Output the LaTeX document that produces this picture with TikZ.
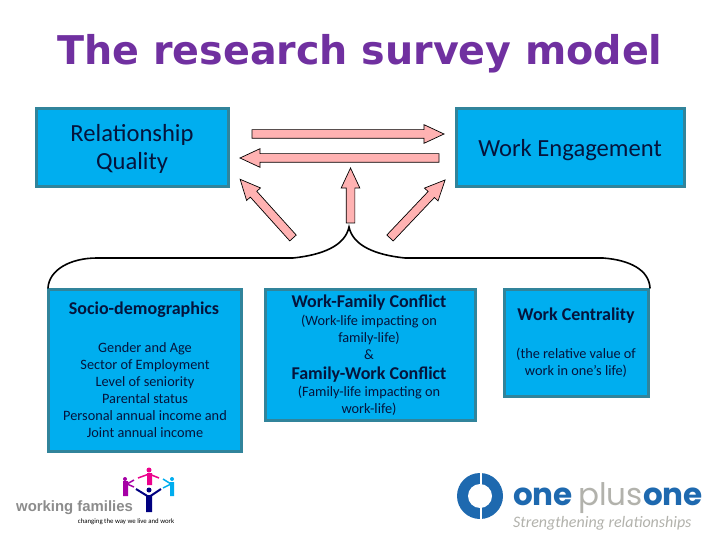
\documentclass[tikz,border=0pt]{standalone}
\usepackage{fontspec}
\setmainfont{Carlito}
\newfontfamily\titlefont{DejaVu Sans}
\newfontfamily\wffont{Liberation Sans}
\newfontfamily\opfont{Poppins}
\usetikzlibrary{positioning,shapes.arrows}
\definecolor{boxfill}{RGB}{0,174,239}
\definecolor{boxline}{RGB}{49,132,155}
\definecolor{arrowfill}{RGB}{255,178,178}
\definecolor{titlepurple}{RGB}{112,48,160}
\definecolor{logoblue}{RGB}{30,105,175}
\definecolor{logogrey}{RGB}{178,178,172}
\definecolor{boxtext}{RGB}{5,20,60}
\tikzset{
  infobox/.style={draw=boxline, line width=3pt, fill=boxfill, inner sep=0pt, outer sep=0pt, anchor=north west},
  headtext/.style={text=boxtext, font=\fontsize{18}{20}\selectfont\bfseries},
  notetext/.style={text=boxtext, align=center, font=\fontsize{14.3}{16.9}\selectfont},
  flowarrow/.style={single arrow, draw=black, fill=arrowfill, line width=0.7pt, inner sep=0pt, inner ysep=4pt,
    outer sep=0pt, single arrow head extend=5pt, single arrow tip angle=50, anchor=tail},
  bracecurve/.style={draw=black, line width=1.6pt, line cap=round},
}
\begin{document}
\begin{tikzpicture}[x=1pt, y=-1pt]
    \useasboundingbox (0,0) rectangle (720,540);
    \fill[white] (0,0) rectangle (720,540);

    % Title
    \node (title) at (360,54) {\titlefont\fontsize{39.6}{44}\selectfont\bfseries\color{titlepurple}The research survey model};

    % Boxes
    \node[infobox, minimum width=192pt, minimum height=78pt] (quality) at (36.5,108.5) {};
    \node[infobox, minimum width=228pt, minimum height=78pt] (engagement) at (456.5,108.5) {};
    \node[infobox, minimum width=193pt, minimum height=162pt] (socio) at (48,289) {};
    \node[infobox, minimum width=210pt, minimum height=131pt] (conflict) at (265,289) {};
    \node[infobox, minimum width=144pt, minimum height=107pt] (centrality) at (504.5,289) {};

    % Box texts
    \node[align=center, text=boxtext, font=\fontsize{24.6}{28}\selectfont] (qualitytext) at (132,149) {Relationship\\Quality};
    \node[text=boxtext, font=\fontsize{24.6}{28}\selectfont] (engagementtext) at (570,150) {Work Engagement};
    \node[headtext] (sociotext) at (144,310) {Socio-demographics};
    \node[notetext] (sociolist) at (145,390) {Gender and Age\\Sector of Employment\\Level of seniority\\Parental status\\Personal annual income and\\Joint annual income};
    \node[headtext] (wfc) at (369,303) {Work-Family Conflict};
    \node[notetext] (wfcnote) at (369,337) {(Work-life impacting on\\family-life)\\\&};
    \node[headtext] (fwc) at (369,375) {Family-Work Conflict};
    \node[notetext] (fwcnote) at (369,401) {(Family-life impacting on\\work-life)};
    \node[headtext] (centraltext) at (576,316) {Work Centrality};
    \node[notetext] (centralnote) at (576,363) {(the relative value of\\work in one’s life)};

    % Arrows
    \node[flowarrow, minimum height=192pt] (toengage) at (252,134) {};
    \node[flowarrow, rotate=180, minimum height=199pt] (toquality) at (439,158) {};
    \node[flowarrow, rotate=90, minimum height=55pt] (upmid) at (350.5,223) {};
    \node[flowarrow, rotate=132, minimum height=79pt] (upleft) at (293,238) {};
    \node[flowarrow, rotate=46.5, minimum height=80pt] (upright) at (390,238) {};

    % Brace
    \coordinate (braceleft) at (48,288);
    \coordinate (braceright) at (650,288);
    \coordinate (bracetip) at (349,227);
    \draw[bracecurve] (braceleft) .. controls (49,270) and (70,258) .. (97,258) -- (293,258)
        .. controls (322,255) and (345,246) .. (bracetip)
        .. controls (353,246) and (376,255) .. (405,258) -- (603,258)
        .. controls (630,260) and (649,270) .. (braceright);

    % Logo left
    \node[font=\wffont\fontsize{14.9}{16}\selectfont\bfseries, text=gray!90, inner sep=0pt, anchor=west] (wflogo) at (16,508) {working families};
    \node[font=\fontsize{6.8}{8}\selectfont, inner sep=0pt] (wftag) at (126,522) {changing the way we live and work};
    \fill[violet!70!magenta] (125,479) circle (2pt) (123,481) rectangle (128,496);
    \draw[violet!70!magenta, line width=1.5pt] (127,484) -- (134,480) (127,484) -- (134,487);
    \fill[magenta] (149,470) circle (2.5pt) (147,473) rectangle (152,485);
    \draw[magenta, line width=1.5pt] (138,478) -- (149,474) -- (159,478);
    \fill[cyan] (172,479) circle (2pt) (170,482) rectangle (174,496);
    \draw[cyan, line width=1.5pt] (171,484) -- (163,479) (171,484) -- (163,488);
    \fill[blue!50!black] (149,490) circle (2.5pt) (146,495) rectangle (152,512);
    \draw[blue!50!black, line width=2pt] (136,489) -- (149,497) -- (161,489);

    % Logo right
    \fill[logoblue] (480,496) circle (23pt);
    \fill[white] (480,496) circle (12pt);
    \fill[white] (480,472) rectangle (481.5,520);
    \node[font=\opfont\fontsize{31}{34}\selectfont\bfseries, text=logoblue, inner sep=0pt, anchor=base west] (oneleft) at (513,505) {one};
    \node[font=\opfont\fontsize{31}{34}\selectfont, text=logogrey, inner sep=0pt, anchor=base west] (plus) at (578,505) {plus};
    \node[font=\opfont\fontsize{31}{34}\selectfont\bfseries, text=logoblue, inner sep=0pt, anchor=base west] (oneright) at (643,505) {one};
    \node[font=\fontsize{16}{18}\selectfont\itshape, text=logogrey, inner sep=0pt, anchor=west] (optag) at (513,523) {Strengthening relationships};
\end{tikzpicture}
\end{document}
